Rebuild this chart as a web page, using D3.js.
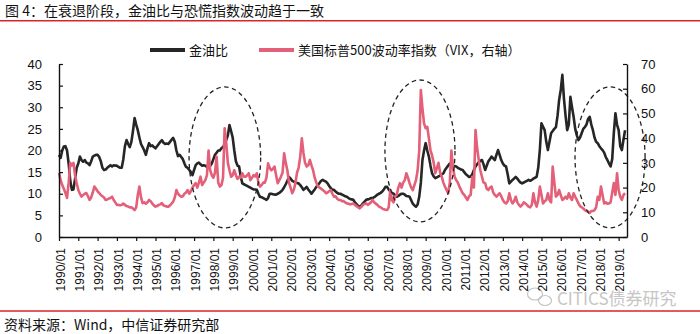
<!DOCTYPE html>
<html><head><meta charset="utf-8">
<script src="https://cdn.jsdelivr.net/npm/d3@7"></script>
<style>
html,body{margin:0;padding:0;background:#fff;}
svg{display:block;font-family:"Liberation Sans",Arial,"Noto Sans CJK SC",sans-serif;}
</style></head><body>
<svg id="c" width="700" height="334"></svg>
<script>
const titleText = "图 4：在衰退阶段，金油比与恐慌指数波动趋于一致";
const sourceText = "资料来源：Wind，中信证券研究部";
const watermarkText = "CITICS债券研究";
const seriesNames = ["金油比", "美国标普500波动率指数（VIX，右轴）"];
const startYear = 1990; // monthly data from 1990/01
const goldOil = [
 19,18.3,20,20.9,21,20,17,13,10.9,11,13.5,16,            // 1990
 17,18.6,17.8,17.4,17.8,17.2,17,16.6,17.5,18.6,18.8,19,  // 1991
 19,18.5,17.5,16,15.5,15.6,16,16.3,16.6,16.3,16.6,16.5,  // 1992
 16.5,16.2,16,16,18,21,22.4,21.5,20.8,22,24.5,27.5,      // 1993
 26,24.7,23,21.5,20.8,20,19,20.5,21.7,21,21.2,20.8,      // 1994
 20.5,21,21.5,22,22.4,21.8,21.5,21.6,21.5,22,22.5,22.9,  // 1995
 22,20,18.7,19,18.5,18,17,16.2,16,15.5,15,14.3,          // 1996
 15.5,16.6,17,17.2,16.8,16.5,16.6,16.5,16.2,16,16.5,17,  // 1997
 18,19,19.5,20,20,20.5,20.8,21.5,22.4,23.5,25.9,24.5,    // 1998
 23,20,17.5,16.5,16.3,14,12.4,12.2,12,11.8,11.6,11.4,    // 1999
 11.2,11,11,10.9,10,9.3,9.2,9,8.8,8.6,9,10,              // 2000
 10,9.9,9.8,9.8,10,10.2,10.5,10.9,11.5,12.2,13,13.9,     // 2001
 13.5,13,12.8,12.6,12.5,12.4,12,11.5,10.9,11.2,11.6,11,  // 2002
 10.5,10,10.5,11,11.6,12,12.5,13,13.2,13,12.8,12.4,      // 2003
 11.8,11.3,10.9,10.9,10.5,10.2,10,10,9.8,9.6,9.4,9.3,    // 2004
 9,8.8,8.7,8.6,8,7.6,7.2,7,7.3,7.8,8.2,8.6,              // 2005
 8.7,8.8,9,9,9.2,9.5,9.8,10,10.2,10.5,11,11.6,           // 2006
 11.6,11,10.5,10.2,10,9.6,9.3,9.5,9.8,10,10,9.8,         // 2007
 9.5,9.4,9.3,8.5,7.7,7.3,7,7.5,9.3,12.5,17.8,20,         // 2008
 21.7,20,18.6,16.5,14.7,14,13.6,13.8,14,14.2,14.5,14.7,  // 2009
 15.5,16,16.5,17,16.8,16.5,16.4,16.3,16,15.8,15.6,15.5,  // 2010
 15,14.5,14.2,13.9,14,14.5,15.5,16.3,16.8,17.3,17.6,17.8,// 2011
 16.8,15.5,16.5,17.5,18,18.6,18.2,17.8,19,20.1,19,17.8,  // 2012
 17,16.5,16.3,14.5,12.4,12.8,13.2,13.5,13.9,13.5,13,12.6,// 2013
 12.4,12.6,12.8,13,13.2,13,13.2,13.5,13.7,13.9,16,20.1,  // 2014
 26.3,25.5,24.7,22,20.1,22,24,24.5,25,25.4,28,31.7,      // 2015
 34,37.5,32,28,24.7,26,32.4,30,27.8,25,23.5,22.4,        // 2016
 23,24,25,25.4,26,27.3,27.8,26,24.7,23,22,21.7,          // 2017
 21,20.5,20.1,19.5,18.5,17.8,17,16.3,18,24,28.6,26,      // 2018
 24.7,21,20.1,22.5,24.7                                   // 2019
];
const vix = [
 25.9,23,21,19.5,17.8,15.8,22,30,29,30,25,21.8,          // 1990
 19,17.5,16.3,17,17.5,17.8,16.5,15,16,18,20.4,19.5,      // 1991
 18.5,17.8,17,16.5,16,15,15.2,15.5,15.8,16.3,15,14,      // 1992
 13,13,12.8,13,13.5,13,12.5,12.3,12,12,11.5,10.9,        // 1993
 12,17,20.4,16,13.7,14,13.5,14,15,14.5,13.5,12.8,        // 1994
 12.3,12.5,13,13.2,13.7,12.8,12.5,12.3,12.3,12.8,13.5,14.3, // 1995
 16,19,17.5,16.8,16.3,16.5,17.5,18,19,17.5,18.5,20,      // 1996
 21,21.8,20,22,24.4,21,22,23,25,35,27,25,                // 1997
 24,26,32.5,22,20.4,21,24,44,38,30,27,24.4,              // 1998
 25,27,25,23.5,24.4,24,25.8,24.4,24.4,25,25.8,23,        // 1999
 24,25,24.5,25.8,22,20.4,21,22,22,24,29.8,28,            // 2000
 27,27.5,28.5,25,21.8,23,24.4,26,33.9,30,27,22,          // 2001
 20,17.7,19,21.8,26,28,32.5,39.9,34,30,28.5,29,          // 2002
 31.2,29,27,24,22,20.4,20,19.5,19,18.5,17.7,18,          // 2003
 18.5,19,17.5,16.3,16.5,15.5,15,15,14.5,14.5,14,13.6,    // 2004
 13.5,13.2,13.4,13.6,13,12.5,12,11.6,12.2,13,13.4,13.6,  // 2005
 13,13.5,14,15,14,13.5,13,12.3,12,11.5,11.2,11,          // 2006
 10.9,12,19,15,14,16.3,17,20,21.8,20,22,23,              // 2007
 25.8,24,21.8,20,19,21,23,27,35,59.5,52,46,              // 2008
 44,44.6,40,35,33,30,25.8,28,30,26,24.4,22,              // 2009
 20.4,19,17.7,22,35,28,24.4,23,22,20.4,19,17.7,          // 2010
 17,16,15,16.5,17,24.4,20,43.3,36,31.2,27,24.4,          // 2011
 22,21.8,19.5,19,20,20.4,18,17,16.3,17,17.7,16.5,        // 2012
 15,14,13.6,14.5,17.7,15,13.6,14.5,16.3,14,13,12.3,      // 2013
 13,14,13.6,13,12.3,12,13,17.7,14,12.3,15,20.4,          // 2014
 17,13.6,14.5,15,17.7,15,14,28.5,22,16.3,17,19,          // 2015
 17,15,15.5,16.3,15.5,17.7,16,15,17.7,16.3,15,13.6,      // 2016
 12.5,12,11.5,10.9,10.5,10.3,9.7,10.5,10.5,10.9,12,16.3, // 2017
 15,20.4,17,13.6,14,13.5,13.6,14,18,21.8,17,25.8,        // 2018
 19,16.3,15,17,17.7                                       // 2019
];
const leftTicks = [0,5,10,15,20,25,30,35,40];
const rightTicks = [0,10,20,30,40,50,60,70];
const xTickYears = d3.range(1990, 2020);
// dashed highlight ellipses: [year from, year to], [left-axis value low, high]
const ellipseYears = [[1996.74, 2000.45], [2006.89, 2010.52], [2016.74, 2020.37]];
const ellipseVals = [[2.1, 34.7], [3.5, 36.3], [2.1, 34.7]];

const svg = d3.select("#c");
const L = 59, R = 627, T = 64, B = 237;
const n = goldOil.length;
const x = d3.scaleLinear().domain([startYear, startYear + (n - 1) / 12 + 0.1]).range([L, R]);
const yL = d3.scaleLinear().domain([0, 40]).range([B, T]);
const yR = d3.scaleLinear().domain([0, 70]).range([B, T]);
const cjk = '"Noto Sans CJK SC","Liberation Sans",sans-serif';

// title + rules
svg.append("text").attr("x", 5).attr("y", 16).attr("font-family", cjk)
  .attr("font-size", 14).attr("fill", "#111").text(titleText);
svg.append("line").attr("x1", 0).attr("x2", 700).attr("y1", 20.8).attr("y2", 20.8)
  .attr("stroke", "#d9232d").attr("stroke-width", 1.6);
svg.append("line").attr("x1", 0).attr("x2", 700).attr("y1", 311).attr("y2", 311)
  .attr("stroke", "#d9232d").attr("stroke-width", 1.6);
svg.append("text").attr("x", 4).attr("y", 330).attr("font-family", cjk)
  .attr("font-size", 14).attr("fill", "#111").text(sourceText);

// watermark
const wm = svg.append("g").attr("fill", "none").attr("stroke", "#c4c4c4").attr("stroke-width", 1.2);
wm.append("ellipse").attr("cx", 535).attr("cy", 294).attr("rx", 7.5).attr("ry", 6);
wm.append("ellipse").attr("cx", 545).attr("cy", 300.5).attr("rx", 6.5).attr("ry", 5);
svg.append("text").attr("x", 557).attr("y", 305).attr("font-family", cjk)
  .attr("font-size", 17).attr("fill", "#c6c6c6").text(watermarkText);

// lines
const mk = (arr, ys) => d3.line().x((d, i) => x(startYear + i / 12)).y(d => ys(d))(arr);
svg.append("path").attr("d", mk(goldOil, yL)).attr("fill", "none")
  .attr("stroke", "#262626").attr("stroke-width", 2.6).attr("stroke-linejoin", "round");
svg.append("path").attr("d", mk(vix, yR)).attr("fill", "none")
  .attr("stroke", "#e45f78").attr("stroke-width", 2.6).attr("stroke-linejoin", "round");

// ellipses
ellipseYears.forEach((e, k) => {
  const x0 = x(e[0]), x1 = x(e[1]);
  const y0 = yL(ellipseVals[k][1]), y1 = yL(ellipseVals[k][0]);
  svg.append("ellipse").attr("cx", (x0 + x1) / 2).attr("cy", (y0 + y1) / 2)
    .attr("rx", (x1 - x0) / 2).attr("ry", (y1 - y0) / 2)
    .attr("fill", "none").attr("stroke", "#222").attr("stroke-width", 1.3)
    .attr("stroke-dasharray", "4.5,3.5");
});

// axes
const axL = d3.axisLeft(yL).tickValues(leftTicks).tickSizeInner(-4).tickSizeOuter(0).tickPadding(17);
const gL = svg.append("g").attr("transform", `translate(${L},0)`).call(axL);
const axR = d3.axisRight(yR).tickValues(rightTicks).tickSizeInner(-4).tickSizeOuter(0).tickPadding(14);
const gR = svg.append("g").attr("transform", `translate(${R},0)`).call(axR);
const axB = d3.axisBottom(x).tickValues(xTickYears).tickFormat(d => d + "/01").tickSizeInner(4).tickSizeOuter(0);
const gB = svg.append("g").attr("transform", `translate(0,${B})`).call(axB);
[gL, gR, gB].forEach(g => {
  g.select(".domain").attr("stroke", "#111").attr("stroke-width", 1.4);
  g.selectAll(".tick line").attr("stroke", "#111").attr("stroke-width", 1.2);
  g.selectAll("text").attr("font-family", '"Liberation Sans",Arial,sans-serif').attr("fill", "#111");
});
gL.selectAll("text").attr("font-size", 13);
gR.selectAll("text").attr("font-size", 13);
gB.selectAll("text").attr("font-size", 12)
  .attr("text-anchor", "end").attr("dy", "0.35em")
  .attr("transform", "translate(1,11) rotate(-90)").attr("y", 0).attr("x", 0);

// legend
const lg = svg.append("g");
lg.append("line").attr("x1", 150).attr("x2", 185).attr("y1", 50).attr("y2", 50)
  .attr("stroke", "#262626").attr("stroke-width", 4);
lg.append("text").attr("x", 189).attr("y", 50).attr("dy", "0.36em").attr("font-family", cjk)
  .attr("font-size", 13).attr("fill", "#111").text(seriesNames[0]);
lg.append("line").attr("x1", 259).attr("x2", 294).attr("y1", 50).attr("y2", 50)
  .attr("stroke", "#e45f78").attr("stroke-width", 4);
lg.append("text").attr("x", 298).attr("y", 50).attr("dy", "0.36em").attr("font-family", cjk)
  .attr("font-size", 13).attr("fill", "#111").text(seriesNames[1]);
</script>
</body></html>
